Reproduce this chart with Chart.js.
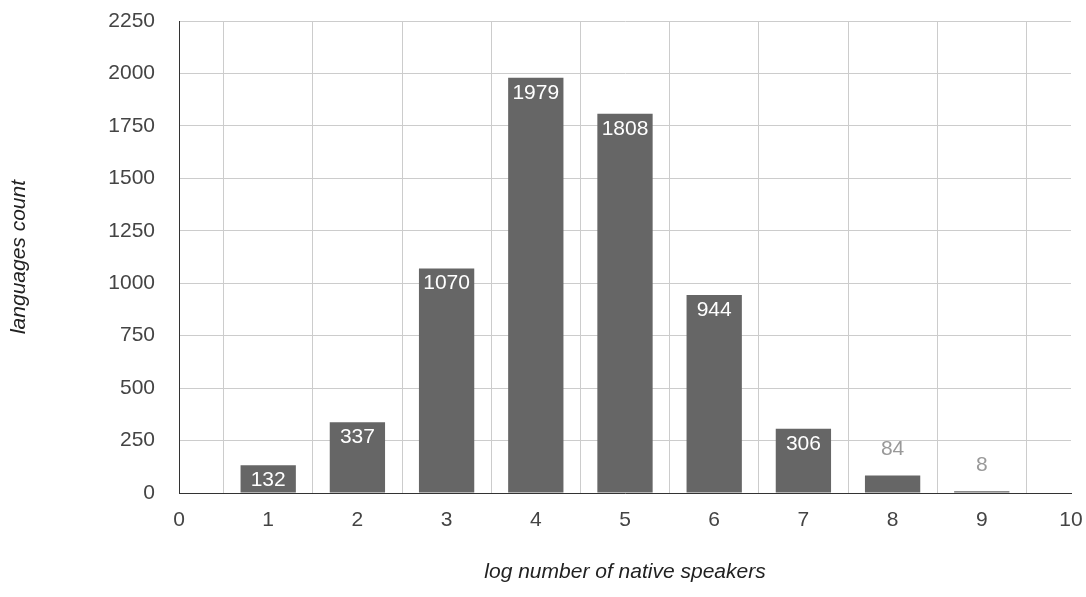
<!DOCTYPE html>
<html>
<head>
<meta charset="utf-8">
<script src="https://cdn.jsdelivr.net/npm/chart.js@4.4.0/dist/chart.umd.min.js"></script>
<style>
  html, body { margin: 0; padding: 0; background: #fff; }
  #wrap { width: 1086px; height: 597px; position: relative; }
</style>
</head>
<body>
<div id="wrap"><canvas id="c"></canvas></div>
<script>
const logSpeakers = [1, 2, 3, 4, 5, 6, 7, 8, 9];
const languageCounts = [132, 337, 1070, 1979, 1808, 944, 306, 84, 8];
const xTitle = 'log number of native speakers';
const yTitle = 'languages count';

const FONT = 'Liberation Sans, Arial, sans-serif';

const valueLabels = {
  id: 'valueLabels',
  afterDatasetsDraw(chart) {
    const ctx = chart.ctx;
    const meta = chart.getDatasetMeta(0);
    ctx.save();
    ctx.font = '21px ' + FONT;
    ctx.textAlign = 'center';
    ctx.textBaseline = 'middle';
    meta.data.forEach((bar, i) => {
      const v = languageCounts[i];
      const h = bar.base - bar.y;
      if (h > 26) {
        ctx.fillStyle = '#ffffff';
        ctx.fillText(String(v), bar.x, bar.y + 15);
      } else {
        ctx.fillStyle = '#999999';
        ctx.fillText(String(v), bar.x, bar.y - 26);
      }
    });
    ctx.restore();
  }
};

new Chart(document.getElementById('c'), {
  type: 'bar',
  data: {
    datasets: [{
      data: logSpeakers.map((x, i) => ({ x: x, y: languageCounts[i] })),
      backgroundColor: '#666666',
      borderWidth: 0,
      barPercentage: 0.62,
      categoryPercentage: 1
    }]
  },
  options: {
    responsive: true,
    maintainAspectRatio: false,
    animation: false,
    layout: { padding: { top: 21, right: 15, left: 0, bottom: 0 } },
    plugins: { legend: { display: false }, tooltip: { enabled: false } },
    scales: {
      x: {
        type: 'linear',
        min: 0, max: 10,
        offset: false,
        ticks: { stepSize: 1, color: '#444', font: { family: FONT, size: 21 }, padding: 15, callback: v => String(v) },
        grid: { color: '#cccccc', lineWidth: 1, drawTicks: false },
        border: { display: true, color: '#333333', width: 1 },
        title: { display: true, text: xTitle, color: '#222', font: { family: FONT, size: 21, style: 'italic' }, padding: { top: 0, bottom: 12 } },
        afterFit(scale) { scale.height = 104; scale.paddingRight = 0; scale.paddingLeft = 0; }
      },
      y: {
        min: 0, max: 2250,
        ticks: { stepSize: 250, color: '#444', font: { family: FONT, size: 21 }, padding: 24, callback: v => String(v) },
        grid: { color: '#cccccc', lineWidth: 1, drawTicks: false },
        border: { display: true, color: '#333333', width: 1 },
        title: { display: true, text: yTitle, color: '#222', font: { family: FONT, size: 21, style: 'italic' }, padding: { top: 7, bottom: 0 } },
        afterFit(scale) { scale.width = 179; scale.paddingTop = 0; scale.paddingBottom = 0; }
      }
    }
  },
  plugins: [valueLabels]
});
</script>
</body>
</html>
